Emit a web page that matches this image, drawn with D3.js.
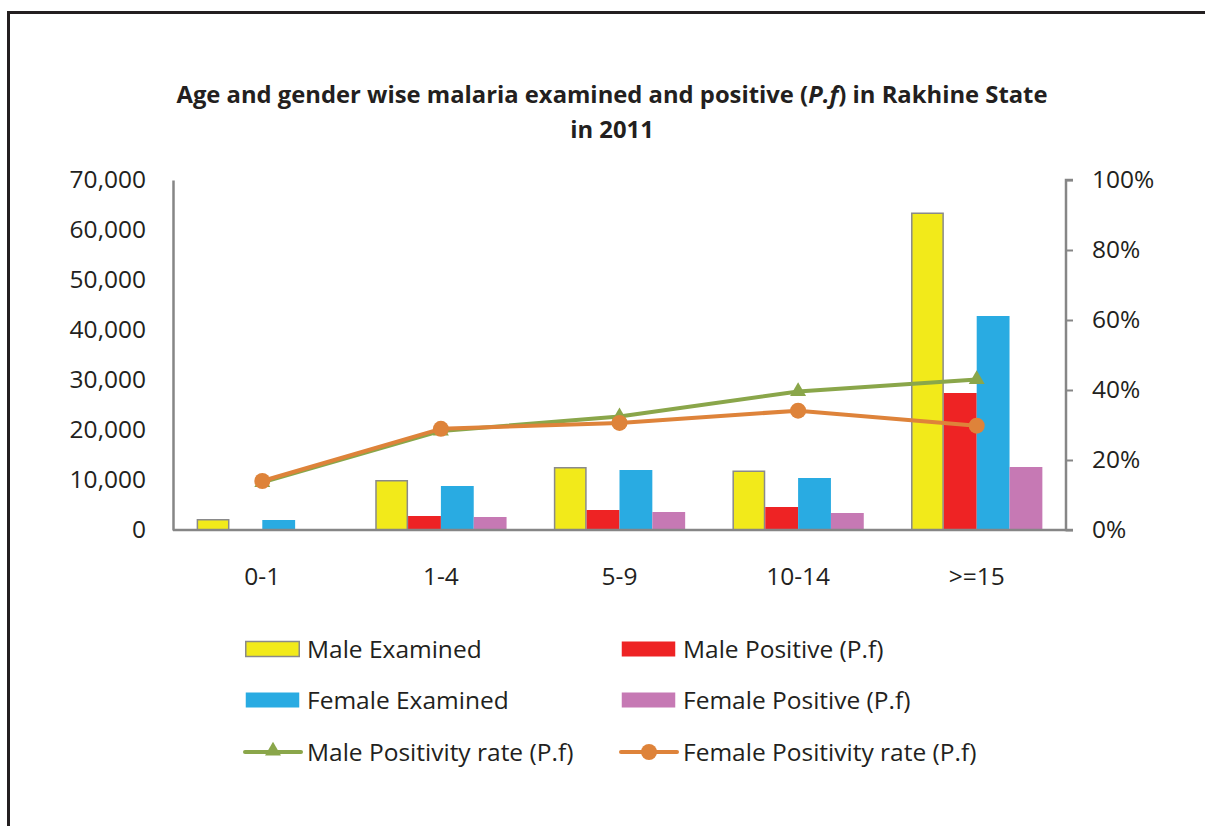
<!DOCTYPE html>
<html><head><meta charset="utf-8">
<script src="https://cdn.jsdelivr.net/npm/d3@7"></script>
<style>body{margin:0;background:#fff}svg{display:block}</style>
</head><body>
<svg id="c" width="1205" height="826"></svg>
<script>
const categories = ["0-1","1-4","5-9","10-14",">=15"];
const maleExamined = [2200, 10000, 12600, 11900, 63500];
const malePositive = [0, 2800, 4000, 4600, 27400];
const femaleExamined = [2000, 8800, 12000, 10400, 42800];
const femalePositive = [0, 2600, 3600, 3400, 12600];
const maleRate = [13.6, 28.3, 32.4, 39.6, 43.0];
const femaleRate = [14.0, 28.9, 30.6, 34.1, 29.8];
const leftTicks = [0,10000,20000,30000,40000,50000,60000,70000];
const rightTicks = [0,20,40,60,80,100];
const titleLines = ["Age and gender wise malaria examined and positive (", "P.f", ") in Rakhine State", "in 2011"];

const svg = d3.select("#c");
const font = "'Open Sans', sans-serif";
const txt = "#231f20";
const axisCol = "#868686";
const fs = 24.5;

svg.append("rect").attr("x",8.5).attr("y",12.5).attr("width",1300).attr("height",900)
  .attr("fill","none").attr("stroke","#231f20").attr("stroke-width",3);

const L=173, R=1066, T=180, B=530;
const x = d3.scaleBand().domain(categories).range([L,R]);
const y = d3.scaleLinear().domain([0,70000]).range([B,T]);
const y2 = d3.scaleLinear().domain([0,100]).range([B,T]);
const series = [
  {name:"Male Examined", vals:maleExamined, color:"#f2ea1a", stroke:"#8a8a8a"},
  {name:"Male Positive (P.f)", vals:malePositive, color:"#ee2324"},
  {name:"Female Examined", vals:femaleExamined, color:"#29abe2"},
  {name:"Female Positive (P.f)", vals:femalePositive, color:"#c679b4"}
];
const inner = d3.scaleBand().domain(d3.range(4)).range([0,x.bandwidth()]).paddingOuter(0.72).paddingInner(0);

// title
const title = svg.append("text").attr("x",612).attr("y",103).attr("text-anchor","middle")
  .attr("font-family",font).attr("font-weight","bold").attr("font-size",23.8).attr("fill",txt);
title.append("tspan").text(titleLines[0]);
title.append("tspan").attr("font-style","italic").text(titleLines[1]);
title.append("tspan").text(titleLines[2]);
svg.append("text").attr("x",612).attr("y",138).attr("text-anchor","middle")
  .attr("font-family",font).attr("font-weight","bold").attr("font-size",23.8).attr("fill",txt).text(titleLines[3]);

// bars
series.forEach((s,i)=>{
  svg.append("g").selectAll("rect").data(s.vals).join("rect")
    .attr("x",(d,j)=>x(categories[j])+inner(i)+(s.stroke?0.75:0))
    .attr("y",d=>y(d)+(s.stroke?0.75:0))
    .attr("width",inner.bandwidth()-(s.stroke?1.5:0))
    .attr("height",d=>Math.max(0,B-y(d)-(s.stroke?0.75:0)))
    .attr("fill",s.color)
    .attr("stroke",s.stroke||"none").attr("stroke-width",1.5)
    .attr("display",d=>d>0?null:"none");
});

// axes
const gl = svg.append("g").attr("transform",`translate(${L},0)`)
  .call(d3.axisLeft(y).tickValues(leftTicks).tickSize(0).tickPadding(27).tickFormat(d3.format(",")));
const gr = svg.append("g").attr("transform",`translate(${R},0)`)
  .call(d3.axisRight(y2).tickValues(rightTicks).tickSize(7).tickPadding(19).tickFormat(d=>d+"%"));
const gb = svg.append("g").attr("transform",`translate(0,${B})`)
  .call(d3.axisBottom(x).tickSize(0).tickPadding(38));
[gl,gr,gb].forEach(g=>{
  g.select(".domain").attr("stroke",axisCol).attr("stroke-width",2.5);
  g.selectAll(".tick line").attr("stroke",axisCol).attr("stroke-width",2);
  g.selectAll("text").attr("font-family",font).attr("font-size",fs).attr("fill",txt);
});
gr.select(".domain").attr("d",`M7,${T}H0V${B}H7`);
gb.select(".domain").attr("d",`M${L},0H${R}`);

// lines
const lines = [
  {name:"Male Positivity rate (P.f)", vals:maleRate, color:"#8aa64a", marker:"tri"},
  {name:"Female Positivity rate (P.f)", vals:femaleRate, color:"#de833a", marker:"circ"}
];
const cx = c => x(c)+x.bandwidth()/2;
const tri = d3.symbol().type(d3.symbolTriangle).size(110);
lines.forEach(l=>{
  svg.append("path").datum(l.vals)
    .attr("d",d3.line().x((d,i)=>cx(categories[i])).y(d=>y2(d)))
    .attr("fill","none").attr("stroke",l.color).attr("stroke-width",4).attr("stroke-linejoin","round");
  const g = svg.append("g");
  if(l.marker==="tri"){
    g.selectAll("path").data(l.vals).join("path").attr("d",tri)
      .attr("transform",(d,i)=>`translate(${cx(categories[i])},${y2(d)})`).attr("fill",l.color);
  } else {
    g.selectAll("circle").data(l.vals).join("circle")
      .attr("cx",(d,i)=>cx(categories[i])).attr("cy",d=>y2(d)).attr("r",8).attr("fill",l.color);
  }
});

// legend
const legItems = [
  {s:series[0], col:0,row:0},{s:series[1],col:1,row:0},
  {s:series[2], col:0,row:1},{s:series[3],col:1,row:1},
  {l:lines[0], col:0,row:2},{l:lines[1],col:1,row:2}
];
const colX=[245,621], rowY=[649,700,752];
legItems.forEach(it=>{
  const gx=colX[it.col], gy=rowY[it.row];
  const g=svg.append("g");
  if(it.s){
    g.append("rect").attr("x",gx+0.75).attr("y",gy-7.5).attr("width",55-1.5).attr("height",15)
      .attr("fill",it.s.color).attr("stroke",it.s.stroke||"none").attr("stroke-width",1.5);
  } else {
    g.append("line").attr("x1",gx).attr("x2",gx+56).attr("y1",gy).attr("y2",gy)
      .attr("stroke",it.l.color).attr("stroke-width",4).attr("stroke-linecap","round");
    if(it.l.marker==="tri") g.append("path").attr("d",tri).attr("transform",`translate(${gx+28},${gy-1})`).attr("fill",it.l.color);
    else g.append("circle").attr("cx",gx+28).attr("cy",gy).attr("r",8).attr("fill",it.l.color);
  }
  g.append("text").attr("x",gx+62).attr("y",gy).attr("dy","0.35em")
    .attr("font-family",font).attr("font-size",fs).attr("fill",txt)
    .text(it.s?it.s.name:it.l.name);
});
</script>
</body></html>
